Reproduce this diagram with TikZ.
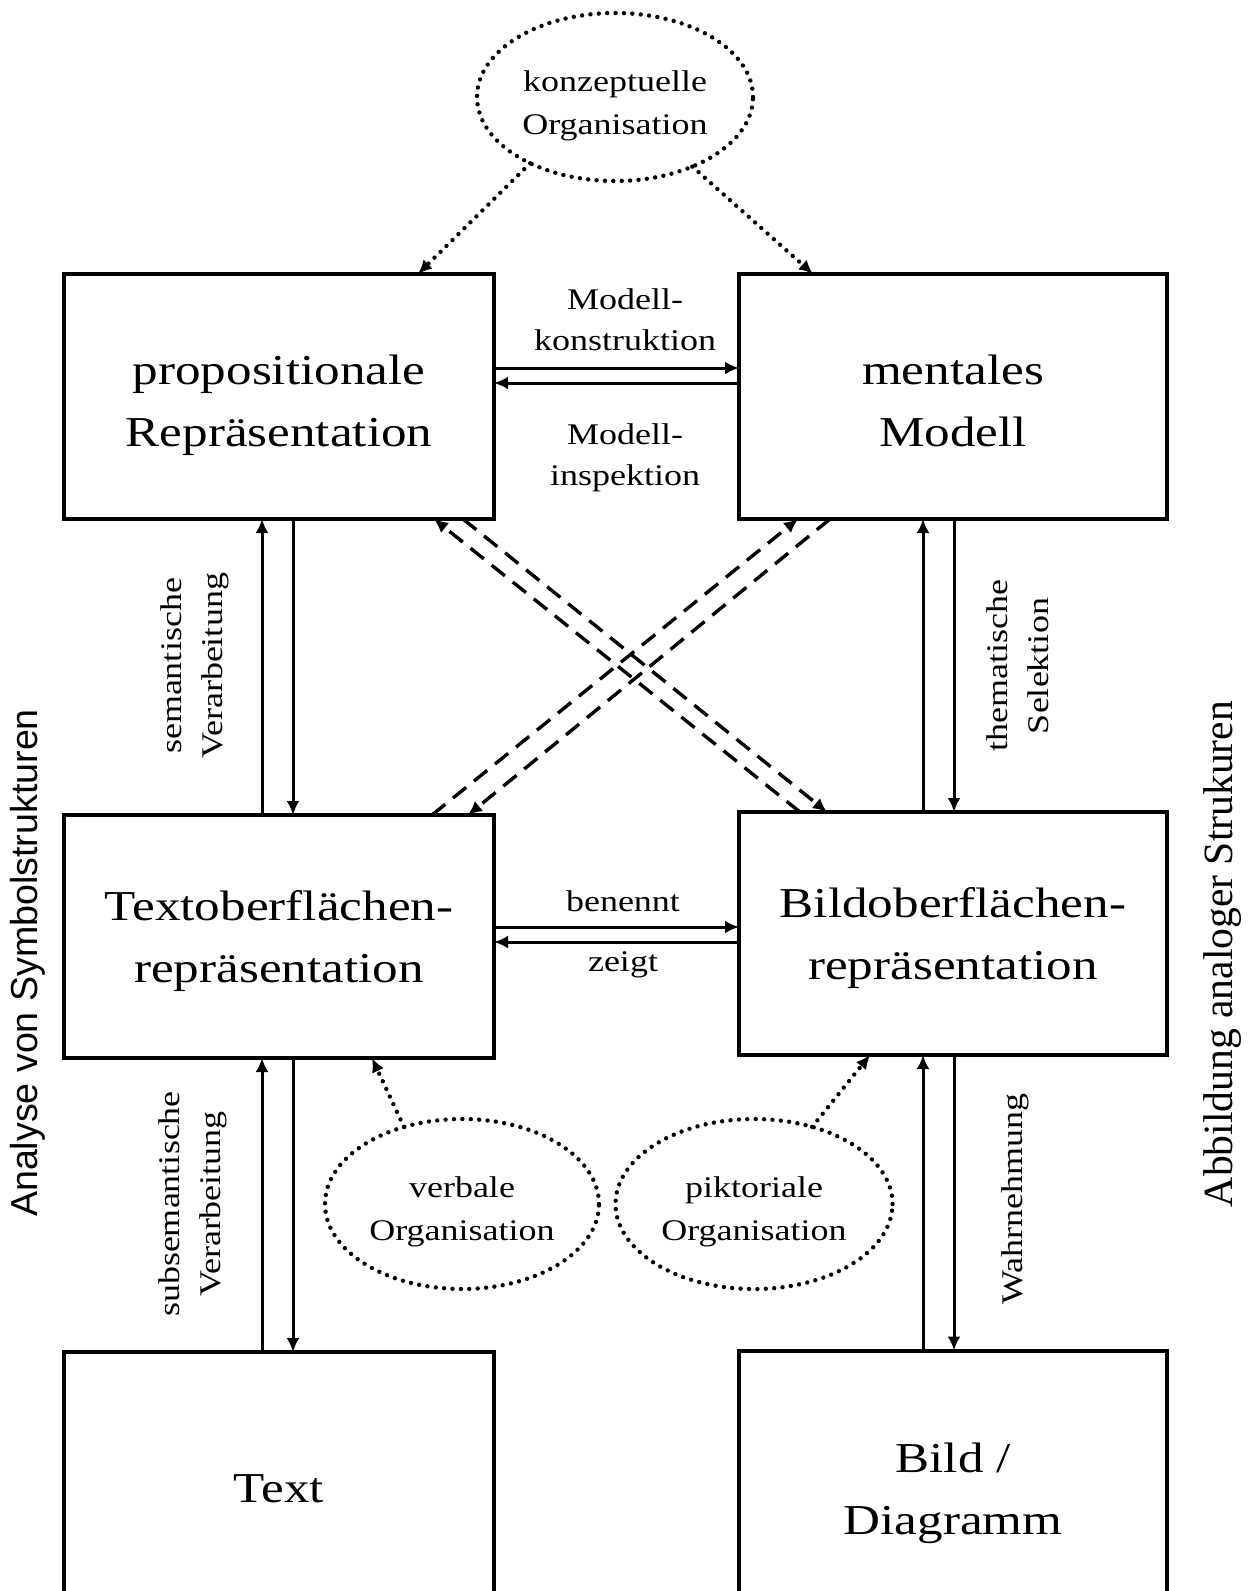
\documentclass[tikz,border=0pt]{standalone}
\usepackage{fontspec}
\setmainfont{Liberation Serif}[FakeStretch=1.2]
\newfontfamily\serifplain{Liberation Serif}
\newfontfamily\sanslabel{Liberation Sans}
\usetikzlibrary{arrows.meta,shapes.geometric}
\begin{document}
\begin{tikzpicture}[x=0.5pt,y=-0.5pt,
  box/.style={draw,line width=2pt,outer sep=0pt,inner sep=0pt,minimum width=215pt},
  boxtxt/.style={align=center,inner sep=0pt,font=\fontsize{21.3pt}{31pt}\selectfont},
  oval/.style={ellipse,draw,line width=2.2pt,line cap=round,dash pattern=on 0pt off 4.2pt,inner sep=0pt,outer sep=0pt},
  lbl/.style={align=center,font=\fontsize{15pt}{20.5pt}\selectfont,inner sep=0pt},
  arr/.style={line width=1.5pt,-{Latex[length=7pt,width=6.5pt]}},
  dasharr/.style={line width=1.7pt,dash pattern=on 8.5pt off 5pt,-{Latex[length=7pt,width=6.5pt]}},
  dotarr/.style={line width=2.2pt,line cap=round,dash pattern=on 0pt off 4.2pt,-{Latex[length=7pt,width=6.5pt]}}
]
\clip (0,0) rectangle (1249,1591);
\fill[white] (0,0) rectangle (1249,1591);

% boxes
\node[box,minimum height=122.5pt] (TL) at (279,396.5) {};
\node[box,minimum width=214pt,minimum height=122.5pt] (TR) at (953,396.5) {};
\node[box,minimum height=121.5pt] (ML) at (279,936.5) {};
\node[box,minimum width=214pt,minimum height=121.5pt] (MR) at (953,933.5) {};
\node[box,minimum height=136pt] (BL) at (279,1488) {};
\node[box,minimum width=214pt,minimum height=138pt] (BR) at (953,1488.5) {};

\node[boxtxt] (TLt) at ([yshift=-4.5pt]TL.center) {propositionale\\Repräsentation};
\node[boxtxt] (TRt) at ([yshift=-2pt]TR.center) {mentales\\Modell};
\node[boxtxt] (MLt) at ([yshift=-2.5pt]ML.center) {Textoberflächen-\\repräsentation};
\node[boxtxt] (MRt) at ([yshift=-2.5pt]MR.center) {Bildoberflächen-\\repräsentation};
\node[boxtxt] (BLt) at ([yshift=-0.5pt]BL.center) {Text};
\node[boxtxt] (BRt) at ([yshift=-2.5pt]BR.center) {Bild /\\Diagramm};

% ellipses
\node[oval,minimum width=138pt,minimum height=84pt] (KO) at (615,97) {};
\node[oval,minimum width=137pt,minimum height=85pt] (VO) at (462,1204) {};
\node[oval,minimum width=138.5pt,minimum height=85pt] (PO) at (754,1204) {};
\node[lbl,font=\fontsize{15pt}{21.5pt}\selectfont] (KOt) at ([yshift=-4.5pt]KO.center) {konzeptuelle\\Organisation};
\node[lbl,font=\fontsize{15pt}{21.5pt}\selectfont] (VOt) at ([yshift=-4pt]VO.center) {verbale\\Organisation};
\node[lbl,font=\fontsize{15pt}{21.5pt}\selectfont] (POt) at ([yshift=-4pt]PO.center) {piktoriale\\Organisation};

% horizontal arrows
\draw[arr] ([yshift=14.25pt]TL.east) -- ([yshift=14.25pt]TL.east -| TR.west);
\draw[arr] ([yshift=6.75pt]TL.east -| TR.west) -- ([yshift=6.75pt]TL.east);
\draw[arr] ([yshift=4.75pt]ML.east) -- ([yshift=4.75pt]ML.east -| MR.west);
\draw[arr] ([yshift=-2.75pt]ML.east -| MR.west) -- ([yshift=-2.75pt]ML.east);

% vertical arrows left
\draw[arr] ([xshift=-8.5pt]ML.north) -- ([xshift=-8.5pt]TL.south);
\draw[arr] ([xshift=7pt]TL.south) -- ([xshift=7pt]ML.north);
\draw[arr] ([xshift=-8.5pt]BL.north) -- ([xshift=-8.5pt]ML.south);
\draw[arr] ([xshift=7pt]ML.south) -- ([xshift=7pt]BL.north);
% vertical arrows right
\draw[arr] ([xshift=-15pt]MR.north) -- ([xshift=-15pt]TR.south);
\draw[arr] ([xshift=0.5pt]TR.south) -- ([xshift=0.5pt]MR.north);
\draw[arr] ([xshift=-15pt]BR.north) -- ([xshift=-15pt]MR.south);
\draw[arr] ([xshift=0.5pt]MR.south) -- ([xshift=0.5pt]BR.north);

% dashed diagonals
\draw[dasharr] ([xshift=-76.5pt]MR.north) -- ([xshift=77.5pt]TL.south);
\draw[dasharr] ([xshift=92pt]TL.south) -- ([xshift=-63pt]MR.north);
\draw[dasharr] ([xshift=76.5pt]ML.north) -- ([xshift=-77.5pt]TR.south);
\draw[dasharr] ([xshift=-61.5pt]TR.south) -- ([xshift=94.5pt]ML.north);

% dotted arrows
\draw[dotarr] (KO.218) -- ([xshift=69.5pt]TL.north);
\draw[dotarr] (KO.318) -- ([xshift=-70pt]TR.north);
\draw[dotarr] (VO.127) -- ([xshift=46.5pt]ML.south);
\draw[dotarr] (PO.53) -- ([xshift=-41.5pt]MR.south);

% labels
\node[lbl] (mk) at (625,319.5) {Modell-\\konstruktion};
\node[lbl] (mi) at (625,458) {Modell-\\inspektion};
\node[lbl] (bn) at (623,901) {benennt};
\node[lbl] (zg) at (623,965) {zeigt};
\node[lbl,rotate=90] (sv) at (195,666) {semantische\\Verarbeitung};
\node[lbl,rotate=90] (ssv) at (192.5,1204) {subsemantische\\Verarbeitung};
\node[lbl,rotate=90] (ts) at (1018,666) {thematische\\Selektion};
\node[lbl,rotate=90] (wn) at (1015,1199) {Wahrnehmung};

% side labels
\node[rotate=90,inner sep=0pt,font={\sanslabel\fontsize{18.8pt}{22pt}\selectfont}] (sideL) at (28,963) {Analyse von Symbolstrukturen};
\node[rotate=90,inner sep=0pt,font={\serifplain\fontsize{20.8pt}{24pt}\selectfont}] (sideR) at (1223,954) {Abbildung analoger Strukuren};
\end{tikzpicture}
\end{document}
